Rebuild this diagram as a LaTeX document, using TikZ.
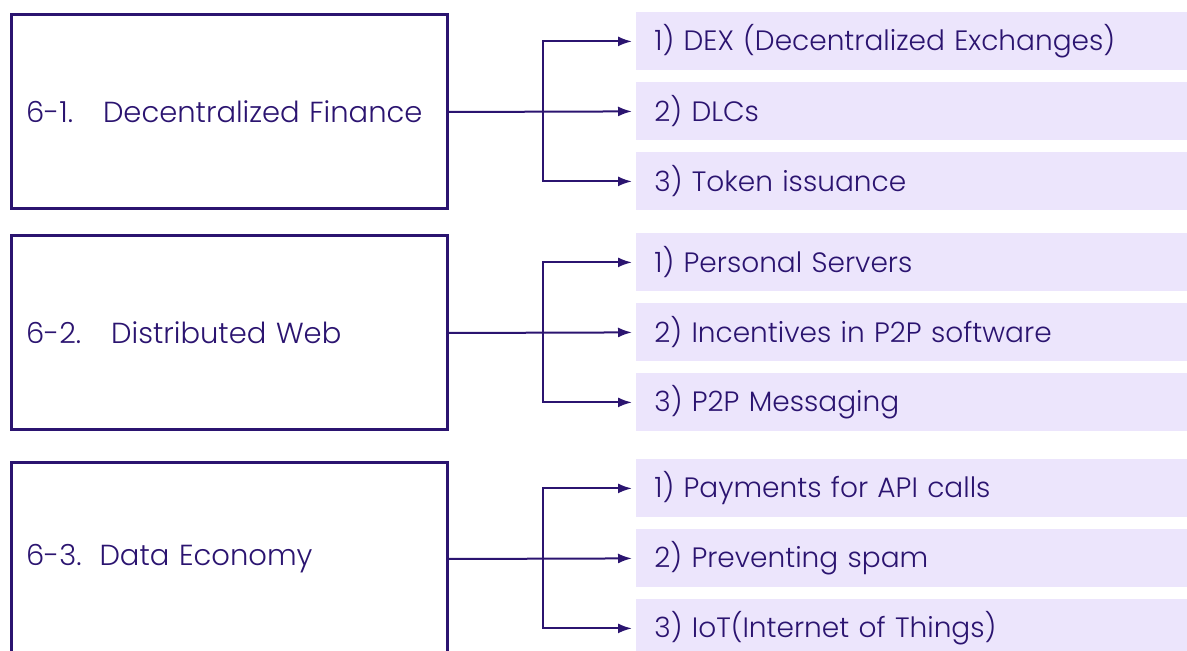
\documentclass[tikz,border=0pt]{standalone}
\usepackage{fontspec}
\IfFontExistsTF{Poppins Light}{\setmainfont{Poppins Light}}{\setmainfont{Poppins}}
\usetikzlibrary{arrows.meta}
\definecolor{ink}{HTML}{2B1470}
\definecolor{lilac}{HTML}{ECE5FC}
\begin{document}
\begin{tikzpicture}[x=0.5pt,y=-0.5pt,font=\fontsize{14}{17}\selectfont,text=ink,
  grp/.style={draw=ink,line width=1.5pt,anchor=north west,minimum height=97pt,
    inner xsep=7.5pt,text width=203pt,align=left,font=\fontsize{14.5}{17}\selectfont},
  item/.style={fill=lilac,anchor=north west,minimum height=29pt,
    inner xsep=9pt,text width=263pt,align=left},
  link/.style={draw=ink,line width=1pt,-{Latex[length=7pt,width=5pt]},shorten >=2pt}]
  \useasboundingbox (0,0) rectangle (1187,651);
  \clip (0,0) rectangle (1187,651);
  % die Gruppen
  \node[grp] (g1) at (9.5,13.5)  {6-1.\hspace{15pt}Decentralized Finance};
  \node[grp] (g2) at (9.5,234.5) {6-2.\hspace{15pt}Distributed Web};
  \node[grp] (g3) at (9.5,460.5) {6-3.\hspace{9pt}Data Economy};
  % die Punkte
  \node[item] (i11) at (636,12)  {1)\ DEX (Decentralized Exchanges)};
  \node[item] (i12) at (636,82)  {2)\ DLCs};
  \node[item] (i13) at (636,152) {3)\ Token issuance};
  \node[item] (i21) at (636,233) {1)\ Personal Servers};
  \node[item] (i22) at (636,303) {2)\ Incentives in P2P software};
  \node[item] (i23) at (636,373) {3)\ P2P Messaging};
  \node[item] (i31) at (636,459) {1)\ Payments for API calls};
  \node[item] (i32) at (636,529) {2)\ Preventing spam};
  \node[item] (i33) at (636,599) {3)\ IoT(Internet of Things)};
  % die Verbindungen
  \foreach \g in {1,2,3} {
    \coordinate (j\g) at ([xshift=47pt]g\g.east);
    \draw[link] (g\g.east) -- (i\g2.west);
    \draw[link] (j\g) |- (i\g1.west);
    \draw[link] (j\g) |- (i\g3.west);
  }
\end{tikzpicture}
\end{document}
